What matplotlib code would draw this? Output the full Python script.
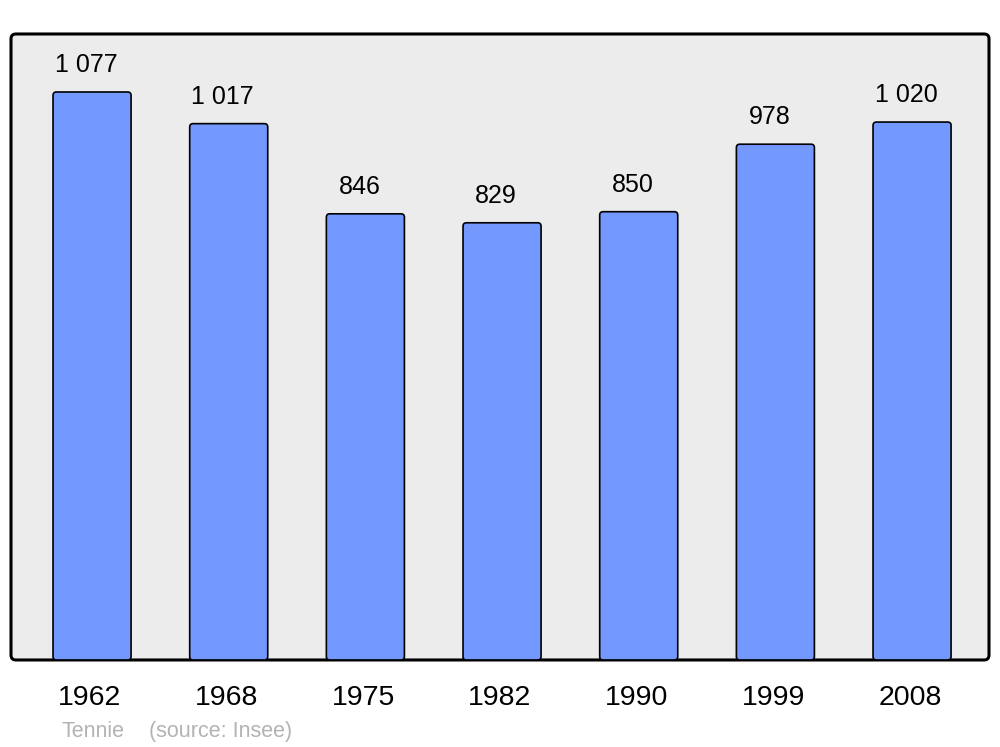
import matplotlib
matplotlib.use("Agg")
import matplotlib.pyplot as plt
from matplotlib.patches import FancyBboxPatch

annees = ["1962", "1968", "1975", "1982", "1990", "1999", "2008"]
population = [1077, 1017, 846, 829, 850, 978, 1020]
etiquettes = ["1 077", "1 017", "846", "829", "850", "978", "1 020"]

plt.rcParams['font.family'] = ['Liberation Sans', 'DejaVu Sans']

fig = plt.figure(figsize=(10, 7.47), dpi=100)
ax = fig.add_axes([0.011, 0.1165, 0.978, 0.838])
ax.set_facecolor("none")

# fond gris arrondi
fond = FancyBboxPatch((0, 0), 1, 1, boxstyle="round,pad=0,rounding_size=0.005",
                      mutation_aspect=978 / 626, transform=ax.transAxes,
                      facecolor="#ececec", edgecolor="black", linewidth=2.2,
                      zorder=0, clip_on=False)
ax.add_patch(fond)
for s in ax.spines.values():
    s.set_visible(False)

x = list(range(len(annees)))
barres = ax.bar(x, population, width=0.571, color="none", edgecolor="none")

# barres aux coins arrondis
for r in barres:
    p = FancyBboxPatch((r.get_x(), r.get_y()), r.get_width(), r.get_height(),
                       boxstyle="round,pad=0,rounding_size=0.025",
                       mutation_aspect=259, facecolor="#7399ff",
                       edgecolor="black", linewidth=1.2, zorder=2)
    ax.add_patch(p)

for xi, v, lab in zip(x, population, etiquettes):
    ax.annotate(lab, (xi, v), xytext=(-6, 27), textcoords="offset pixels",
                ha="center", va="center", fontsize=18, color="black")

ax.set_xlim(-0.593, 6.563)
ax.set_ylim(0, 1187)
ax.set_yticks([])
ax.set_xticks([xi - 0.015 for xi in x])
ax.set_xticklabels(annees, fontsize=20.5)
ax.tick_params(axis="x", length=0, pad=18)

fig.text(0.062, 0.013, "Tennie", color="#b3b3b3", fontsize=15.5, ha="left", va="baseline")
fig.text(0.149, 0.013, "(source: Insee)", color="#b3b3b3", fontsize=15.5, ha="left", va="baseline")

fig.savefig("out.png", dpi=100)
